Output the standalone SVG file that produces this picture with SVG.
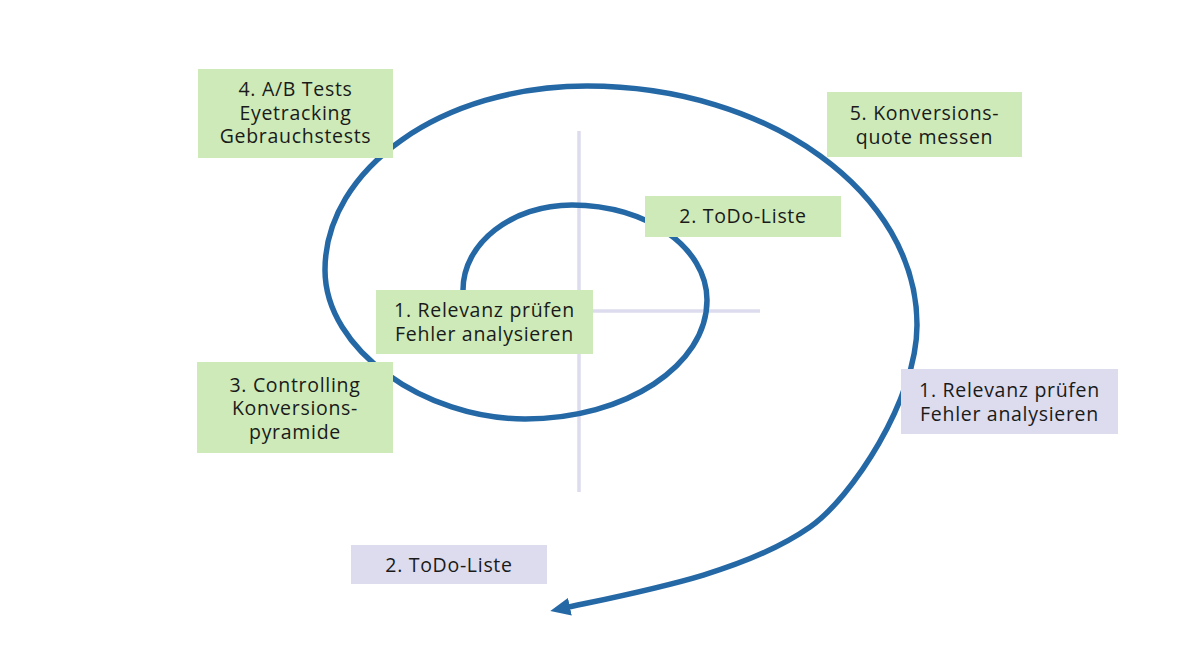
<svg xmlns="http://www.w3.org/2000/svg" width="1189" height="659" viewBox="0 0 1189 659">
<style>
.g{fill:#cdeab8}
.p{fill:#dcdcee}
.t{font-family:"Open Sans","Liberation Sans",sans-serif;font-size:19.5px;letter-spacing:0.7px;fill:#1a1a1a;text-anchor:middle}
.cross{stroke:#dcdcee;stroke-width:3.5;fill:none}
.sp{stroke:#2568a6;stroke-width:5.5;fill:none}
</style>
<defs>
<marker id="ah" markerUnits="userSpaceOnUse" viewBox="0 0 20 18" markerWidth="20" markerHeight="18" refX="6" refY="9" orient="auto">
<path d="M0,0 L20,9 L0,18 Z" fill="#2568a6"/>
</marker>
</defs>
<rect width="1189" height="659" fill="#ffffff"/>
<g id="axes">
<line class="cross" x1="579" y1="131" x2="579" y2="492"/>
<line class="cross" x1="398" y1="311" x2="760" y2="311"/>
</g>
<g id="connectors">
<path class="sp" marker-end="url(#ah)" d="M463,290 C463,243 512,205 572,205 C646.5,205 707,247.6 707,300 C707,365.7 625.5,419 525,419 C425,419 325,350 325,270 C325,168.4 442.4,86 587,86 C769,86 917,193 917,325 C917,400 851,498.5 810,527 C744.4,572.6 645.6,590.6 564,608"/>
</g>
<g id="n4">
<rect class="g" x="198" y="69" width="195" height="89"/>
<text class="t" x="295.5" y="96">4. A/B Tests</text>
<text class="t" x="295.5" y="119.5">Eyetracking</text>
<text class="t" x="295.5" y="143">Gebrauchstests</text>
</g>
<g id="n5">
<rect class="g" x="827" y="92" width="195" height="65"/>
<text class="t" x="924.5" y="120">5. Konversions-</text>
<text class="t" x="924.5" y="144">quote messen</text>
</g>
<g id="n2a">
<rect class="g" x="645" y="196" width="196" height="41"/>
<text class="t" x="743" y="223">2. ToDo-Liste</text>
</g>
<g id="n1a">
<rect class="g" x="376" y="290" width="217" height="64"/>
<text class="t" x="484.5" y="317">1. Relevanz prüfen</text>
<text class="t" x="484.5" y="341">Fehler analysieren</text>
</g>
<g id="n3">
<rect class="g" x="197" y="362" width="196" height="91"/>
<text class="t" x="295" y="391.5">3. Controlling</text>
<text class="t" x="295" y="415">Konversions-</text>
<text class="t" x="295" y="438.5">pyramide</text>
</g>
<g id="n1b">
<rect class="p" x="901" y="369" width="217" height="65"/>
<text class="t" x="1009.5" y="397">1. Relevanz prüfen</text>
<text class="t" x="1009.5" y="421">Fehler analysieren</text>
</g>
<g id="n2b">
<rect class="p" x="351" y="545" width="196" height="39"/>
<text class="t" x="449" y="571.5">2. ToDo-Liste</text>
</g>
</svg>
